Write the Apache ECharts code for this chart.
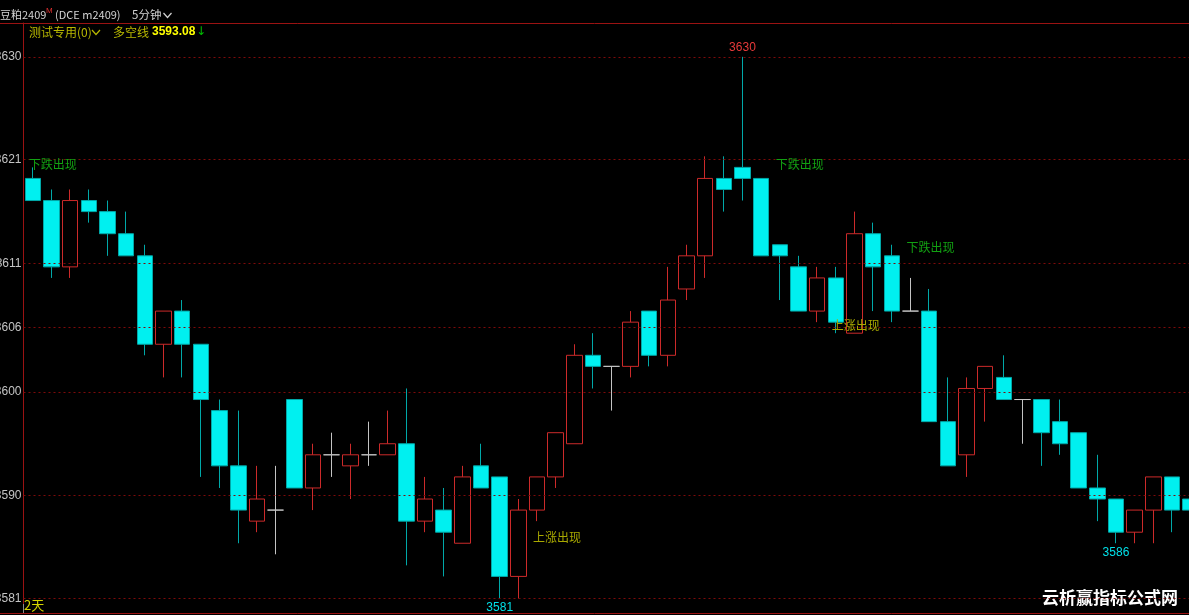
<!DOCTYPE html>
<html>
<head>
<meta charset="utf-8">
<script src="https://cdn.jsdelivr.net/npm/echarts@6/dist/echarts.min.js"></script>
<style>
html,body{margin:0;padding:0;background:#000;overflow:hidden;}
#main{width:1189px;height:615px;}
</style>
</head>
<body>
<div id="main"></div>
<script>
// ---- data (5-minute bars, 豆粕2409) ----
const categories = ['1','2','3','4','5','6','7','8','9','10','11','12','13','14','15','16','17','18','19','20','21','22','23','24','25','26','27','28','29','30','31','32','33','34','35','36','37','38','39','40','41','42','43','44','45','46','47','48','49','50','51','52','53','54','55','56','57','58','59','60','61','62','63'];
const opens  = [3619,3617,3611,3617,3616,3614,3612,3604,3607,3604, 3598,3593,3588,3589,3599,3591,3594,3593,3594,3594, 3595,3588,3589,3586,3593,3592,3583,3589,3592,3595, 3603,3602,3602,3607,3603,3609,3612,3619,3620,3619, 3613,3611,3607,3610,3605,3614,3612,3607,3607,3597, 3594,3600,3601,3599,3599,3597,3596,3591,3590,3587, 3589,3592,3590];
const closes = [3617,3611,3617,3616,3614,3612,3604,3607,3604,3599, 3593,3589,3590,3589,3591,3594,3594,3594,3594,3595, 3588,3590,3587,3592,3591,3583,3589,3592,3596,3603, 3602,3602,3606,3603,3608,3612,3619,3618,3619,3612, 3612,3607,3610,3606,3614,3611,3607,3607,3597,3593, 3600,3602,3599,3599,3596,3595,3591,3590,3587,3589, 3592,3589,3589];
const lows   = [3617,3610,3610,3615,3612,3612,3603,3601,3601,3592, 3591,3586,3587,3585,3591,3589,3592,3590,3593,3594, 3584,3587,3583,3586,3591,3581,3581,3588,3591,3595, 3600,3598,3601,3602,3602,3608,3610,3616,3617,3612, 3608,3607,3606,3605,3605,3607,3606,3607,3597,3593, 3592,3597,3599,3595,3593,3594,3591,3588,3586,3586, 3586,3587,3589];
const highs  = [3620,3618,3618,3618,3617,3616,3613,3607,3608,3604, 3599,3598,3593,3593,3599,3595,3596,3595,3597,3598, 3600,3592,3591,3593,3595,3592,3590,3592,3596,3604, 3605,3602,3607,3607,3611,3613,3621,3621,3630,3619, 3613,3612,3611,3611,3616,3615,3613,3610,3609,3601, 3601,3602,3603,3599,3599,3599,3596,3594,3590,3589, 3592,3592,3590];

const yTickValues = [3630, 3620.7, 3611.3, 3605.5, 3599.7, 3590.3, 3581];
const yTickLabels = ['3630','3621','3611','3606','3600','3590','3581'];

const extremeIdx = [38, 25, 58];
const extremeVal = [3630, 3581, 3586];

const signalIdx   = [0, 40, 47, 27, 43];
const signalPrice = [3620.3, 3620.3, 3612.8, 3586.5, 3605.7];
const signalText  = ['下跌出现','下跌出现','下跌出现','上涨出现','上涨出现'];

const sessionTickIdx = 14;
const lineValue = '3593.08';

// ---- styles ----
const UP = '#cc2a2a', DOWN_FILL = '#00f0f0', DOWN_LINE = '#00a8a8', DOJI = '#c4c4c4';
const GRID_RED = '#7e0a0a', FRAME_RED = '#9a1212';
const CJK = '"Noto Sans CJK SC", "Liberation Sans", sans-serif';

const candleData = opens.map((o, i) => {
  const item = { value: [o, closes[i], lows[i], highs[i]] };
  if (o === closes[i]) {
    item.itemStyle = { color: DOJI, color0: DOJI, borderColor: DOJI, borderColor0: DOJI };
  }
  return item;
});

const markPoints = [];
extremeIdx.forEach((idx, k) => {
  const isHigh = k === 0;
  markPoints.push({
    coord: [idx, extremeVal[k]],
    symbol: 'rect', symbolSize: 0,
    label: {
      show: true, formatter: String(extremeVal[k]),
      position: isHigh ? 'top' : 'bottom', distance: 3,
      color: isHigh ? '#e83a3a' : '#00e0e8',
      fontFamily: '"Liberation Sans", Arial, sans-serif', fontSize: 12
    }
  });
});
signalIdx.forEach((idx, k) => {
  const down = signalText[k] === '下跌出现';
  markPoints.push({
    coord: [idx, signalPrice[k]],
    symbol: 'rect', symbolSize: 0,
    label: {
      show: true, formatter: signalText[k],
      position: 'right', distance: 0, offset: [-4, 0],
      color: down ? '#12a012' : '#a8a800',
      fontFamily: CJK, fontSize: 12
    }
  });
});

const chart = echarts.init(document.getElementById('main'), null, { renderer: 'canvas' });

const option = {
  backgroundColor: '#000',
  animation: false,
  grid: { left: 23.5, right: -11, top: 23, bottom: 2, containLabel: false, outerBoundsMode: 'none' },
  xAxis: {
    type: 'category',
    data: categories,
    boundaryGap: true,
    axisLine: { show: false },
    axisLabel: { show: false },
    axisTick: {
      show: true, inside: true, length: 9,
      interval: (i) => i === sessionTickIdx,
      lineStyle: { color: '#8a8a8a', width: 1 }
    },
    splitLine: { show: false }
  },
  yAxis: {
    type: 'value',
    min: 3579.69, max: 3633.06,
    axisLine: { show: true, lineStyle: { color: FRAME_RED, width: 1 } },
    axisTick: { show: false },
    splitLine: { show: false },
    axisLabel: {
      show: true,
      customValues: yTickValues,
      formatter: (v) => {
        let best = 0, d = Infinity;
        yTickValues.forEach((t, i) => { if (Math.abs(t - v) < d) { d = Math.abs(t - v); best = i; } });
        return yTickLabels[best];
      },
      color: '#c4c4c4', fontSize: 12, margin: 2,
      fontFamily: '"Liberation Sans", Arial, sans-serif'
    }
  },
  series: [{
    type: 'candlestick',
    data: candleData,
    barWidth: 16,
    itemStyle: {
      color: '#000', color0: DOWN_FILL,
      borderColor: UP, borderColor0: DOWN_LINE,
      borderWidth: 1
    },
    markLine: {
      silent: true, symbol: 'none', animation: false,
      label: { show: false },
      lineStyle: { color: GRID_RED, type: [2, 3], width: 1 },
      data: yTickValues.map(v => ({ yAxis: v }))
    },
    markPoint: { silent: true, animation: false, data: markPoints }
  }],
  graphic: [
    { type: 'line', shape: { x1: 0, y1: 23.5, x2: 1189, y2: 23.5 }, style: { stroke: FRAME_RED, lineWidth: 1 }, silent: true },
    { type: 'line', shape: { x1: 0, y1: 613.5, x2: 1189, y2: 613.5 }, style: { stroke: FRAME_RED, lineWidth: 1 }, silent: true },
    { type: 'text', x: 0, y: 15, style: { text: '豆粕2409', fill: '#d2d2d2', font: '11px ' + CJK, verticalAlign: 'middle' } },
    { type: 'text', x: 46, y: 11, style: { text: 'M', fill: '#e03030', font: '8px "Liberation Sans", sans-serif', verticalAlign: 'middle' } },
    { type: 'text', x: 55, y: 15, style: { text: '(DCE m2409)', fill: '#d2d2d2', font: '11px ' + CJK, verticalAlign: 'middle' } },
    { type: 'text', x: 132, y: 15, style: { text: '5分钟', fill: '#d2d2d2', font: '11.5px ' + CJK, verticalAlign: 'middle' } },
    { type: 'polyline', shape: { points: [[163.5, 13], [167.5, 17.5], [171.5, 13]] }, style: { stroke: '#d2d2d2', lineWidth: 1.2, fill: null } },
    { type: 'text', x: 29, y: 32, style: { text: '测试专用(0)', fill: '#b8b800', font: '12px ' + CJK, verticalAlign: 'middle' } },
    { type: 'polyline', shape: { points: [[92, 30], [96, 34.5], [100, 30]] }, style: { stroke: '#b8b800', lineWidth: 1.2, fill: null } },
    { type: 'text', x: 113, y: 32, style: { text: '多空线', fill: '#b8b800', font: '12px ' + CJK, verticalAlign: 'middle' } },
    { type: 'text', x: 152, y: 32, style: { text: lineValue, fill: '#ffff00', font: 'bold 12px "Liberation Sans", sans-serif', verticalAlign: 'middle' } },
    { type: 'text', x: 196, y: 32, style: { text: '↓', fill: '#00c000', font: '12px "DejaVu Sans", sans-serif', verticalAlign: 'middle' } },
    { type: 'text', x: 24, y: 605, style: { text: '2天', fill: '#d4d400', font: '13px ' + CJK, verticalAlign: 'middle' } },
    { type: 'text', x: 1042, y: 598, style: { text: '云析赢指标公式网', fill: '#ffffff', font: 'bold 17px ' + CJK, verticalAlign: 'middle' } }
  ]
};
chart.setOption(option);
</script>
</body>
</html>
